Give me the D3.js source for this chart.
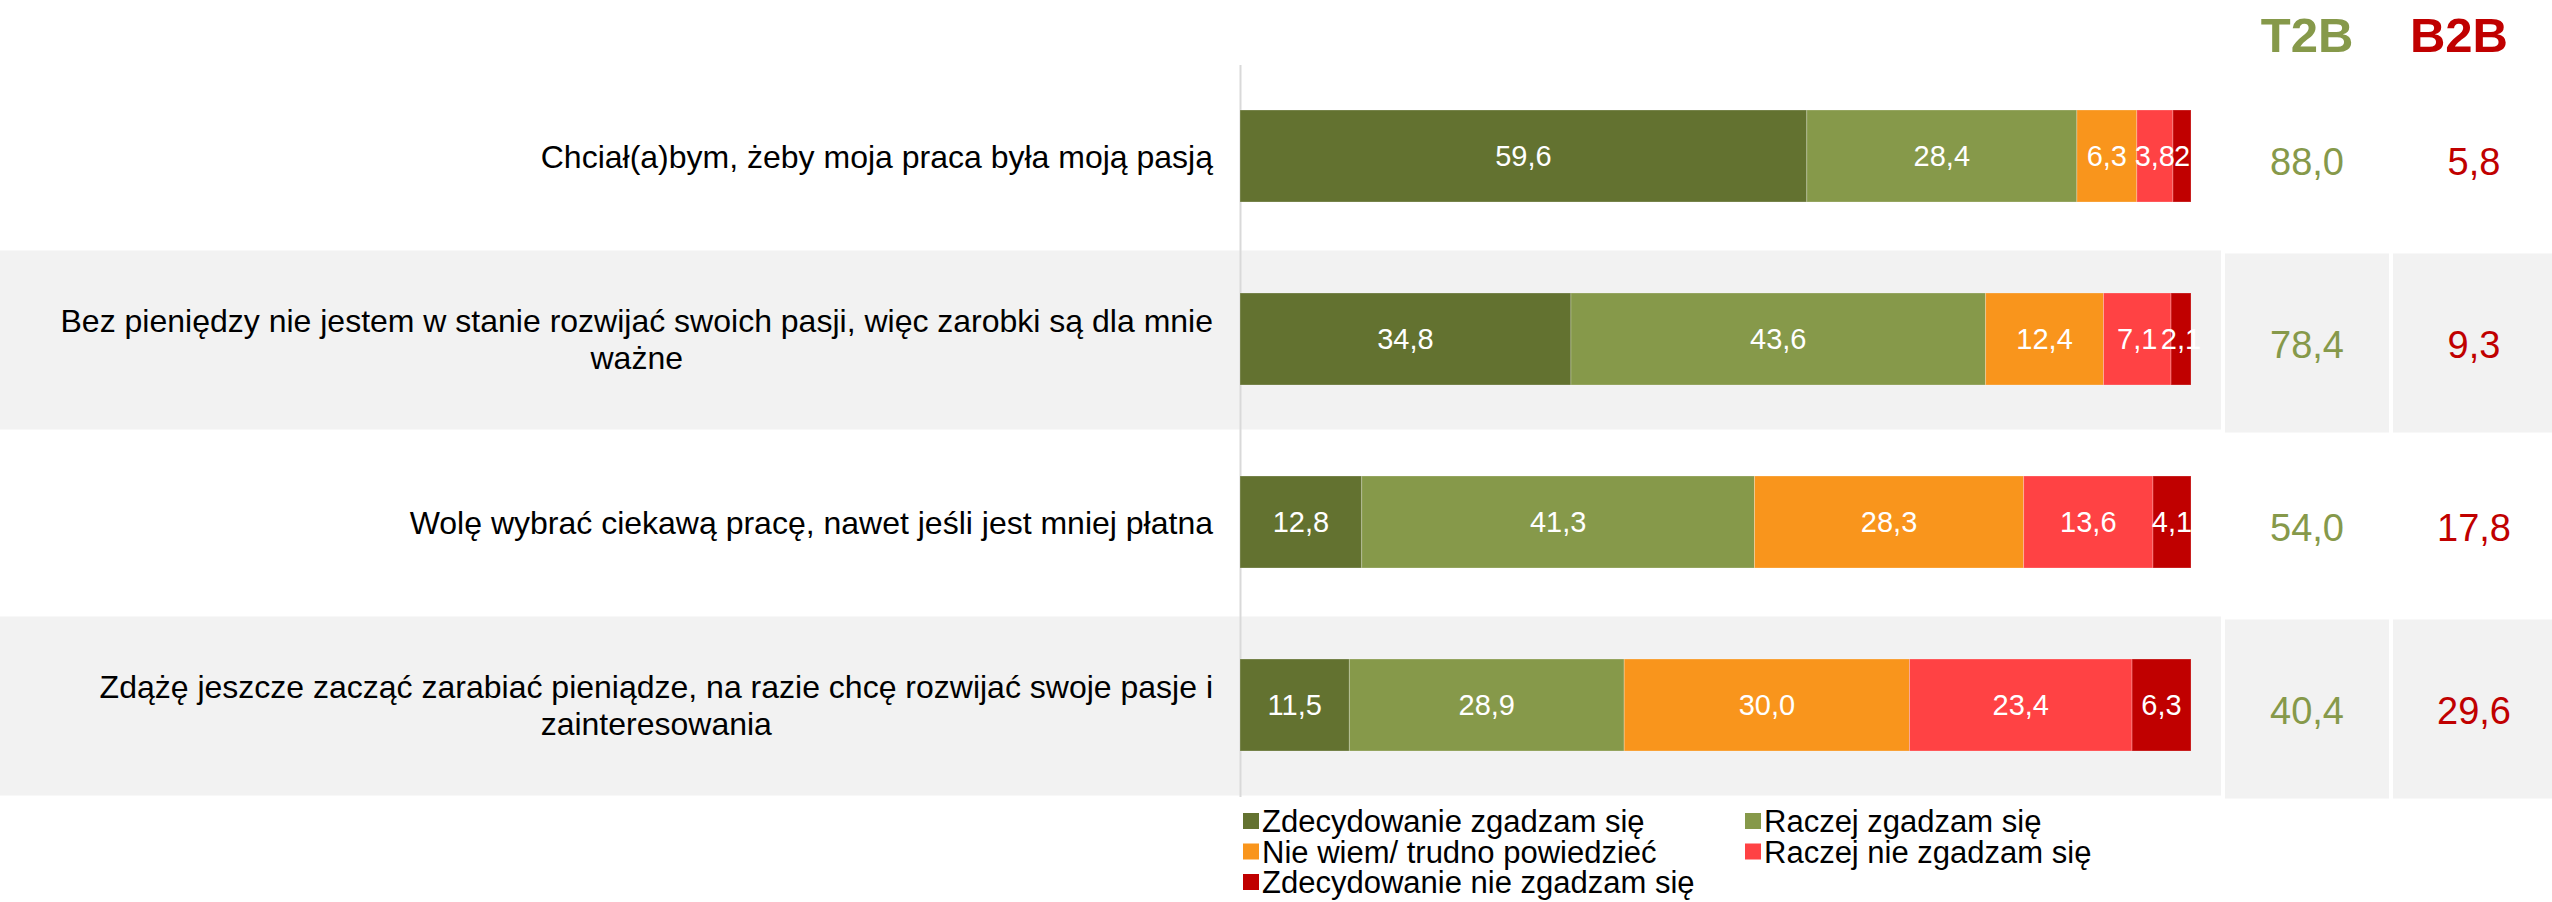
<!DOCTYPE html>
<html>
<head>
<meta charset="utf-8">
<script src="https://cdn.jsdelivr.net/npm/d3@7"></script>
<style>
  html, body { margin: 0; padding: 0; background: #fff; }
  svg text { font-family: "Liberation Sans", Arial, sans-serif; }
</style>
</head>
<body>
<svg id="chart"></svg>
<script>
// Data
const categories = [
  "Chciał(a)bym, żeby moja praca była moją pasją",
  "Bez pieniędzy nie jestem w stanie rozwijać swoich pasji, więc zarobki są dla mnie\nważne",
  "Wolę wybrać ciekawą pracę, nawet jeśli jest mniej płatna",
  "Zdążę jeszcze zacząć zarabiać pieniądze, na razie chcę rozwijać swoje pasje i\nzainteresowania",
];
const seriesNames = [
  "Zdecydowanie zgadzam się",
  "Raczej zgadzam się",
  "Nie wiem/ trudno powiedzieć",
  "Raczej nie zgadzam się",
  "Zdecydowanie nie zgadzam się",
];
const strongAgree = [59.6, 34.8, 12.8, 11.5];
const ratherAgree = [28.4, 43.6, 41.3, 28.9];
const dontKnow = [6.3, 12.4, 28.3, 30.0];
const ratherDisagree = [3.8, 7.1, 13.6, 23.4];
const strongDisagree = [2, 2.1, 4.1, 6.3];
const t2b = [88.0, 78.4, 54.0, 40.4];
const b2b = [5.8, 9.3, 17.8, 29.6];

const seriesValues = [strongAgree, ratherAgree, dontKnow, ratherDisagree, strongDisagree];
const colors = ["#637230", "#86994a", "#f9951c", "#ff4244", "#c00000"];

// Layout
const W = 2552, H = 902;
const plot = { left: 1240, right: 2191, top: 64.5, bottom: 796.5 };
const labelRight = 1213;
const t2bCell = { x: 2225, w: 164 };
const b2bCell = { x: 2393, w: 159 };

const pl = d3.formatLocale({ decimal: ",", thousands: " ", grouping: [3], currency: ["", ""] });
const fmt = pl.format(".1f");
// the source shows the tiny 2% segment label without decimals
const segFmt = v => (v === 2 ? "2" : fmt(v));

const svg = d3.select("#chart").attr("width", W).attr("height", H);

const x = d3.scaleLinear().domain([0, 100]).range([plot.left, plot.right]);
const y = d3.scaleBand().domain(d3.range(categories.length)).range([plot.top, plot.bottom]);
const barH = 92;

// Clip for bars at the plot edge (rows add up to 100,1)
svg.append("clipPath").attr("id", "plotClip")
  .append("rect")
  .attr("x", plot.left).attr("y", 0)
  .attr("width", plot.right - plot.left).attr("height", H);

// Background bands (every second row grey)
categories.forEach((c, i) => {
  if (i % 2 === 0) return;
  const top = y(i) + 3;
  svg.append("rect").attr("x", 0).attr("y", top)
    .attr("width", 2221).attr("height", y.bandwidth() - 4).attr("fill", "#f2f2f2");
  [t2bCell, b2bCell].forEach(cell => {
    svg.append("rect").attr("x", cell.x).attr("y", top + 3)
      .attr("width", cell.w).attr("height", y.bandwidth() - 4).attr("fill", "#f2f2f2");
  });
});

// Vertical axis line
svg.append("g")
  .attr("transform", `translate(${plot.left},0)`)
  .call(d3.axisLeft(y).tickSize(0).tickFormat(""))
  .call(g => g.select(".domain").attr("stroke", "#d9d9d9").attr("stroke-width", 2));

// Stack the series
const rows = categories.map((c, i) => {
  let acc = 0;
  return seriesValues.map((vals, s) => {
    const d = { row: i, s: s, x0: acc, x1: acc + vals[i], v: vals[i] };
    acc += vals[i];
    return d;
  });
}).flat();

const barsG = svg.append("g").attr("clip-path", "url(#plotClip)");

barsG.selectAll("rect.seg")
  .data(rows)
  .join("rect")
  .attr("class", "seg")
  .attr("x", d => x(d.x0))
  .attr("y", d => y(d.row) + y.bandwidth() / 2 - barH / 2)
  .attr("width", d => x(Math.min(d.x1, 100)) - x(d.x0))
  .attr("height", barH)
  .attr("fill", d => colors[d.s])
  .attr("stroke", "rgba(255,255,255,0.25)")
  .attr("stroke-width", 1);

svg.append("g").selectAll("text.seg-label")
  .data(rows)
  .join("text")
  .attr("class", "seg-label")
  .attr("x", d => (x(d.x0) + x(Math.min(d.x1, 100))) / 2)
  .attr("y", d => y(d.row) + y.bandwidth() / 2)
  .attr("dy", "0.36em")
  .attr("text-anchor", "middle")
  .attr("fill", "#fff")
  .attr("font-size", 29)
  .text(d => segFmt(d.v));

// Category labels (multi-line centred, block right-aligned)
categories.forEach((c, i) => {
  const lines = c.split("\n");
  const g = svg.append("g");
  const lineH = 37;
  const cy = y(i) + y.bandwidth() / 2;
  const texts = lines.map((line, k) =>
    g.append("text")
      .attr("y", cy + (k - (lines.length - 1) / 2) * lineH)
      .attr("dy", "0.36em")
      .attr("font-size", 32)
      .attr("fill", "#000")
      .attr("text-anchor", "middle")
      .text(line)
  );
  const maxW = d3.max(texts, t => t.node().getComputedTextLength());
  texts.forEach(t => t.attr("x", labelRight - maxW / 2));
});

// T2B / B2B headers
svg.append("text").attr("x", t2bCell.x + t2bCell.w / 2).attr("y", 52)
  .attr("text-anchor", "middle").attr("font-size", 49).attr("font-weight", "bold")
  .attr("fill", "#86994a").text("T2B");
svg.append("text").attr("x", 2459).attr("y", 52)
  .attr("text-anchor", "middle").attr("font-size", 49).attr("font-weight", "bold")
  .attr("fill", "#c00000").text("B2B");

// T2B / B2B values
svg.selectAll("text.t2b").data(t2b).join("text")
  .attr("class", "t2b")
  .attr("x", t2bCell.x + t2bCell.w / 2)
  .attr("y", (d, i) => y(i) + y.bandwidth() / 2 + 5)
  .attr("dy", "0.36em").attr("text-anchor", "middle")
  .attr("font-size", 38).attr("fill", "#86994a")
  .text(d => fmt(d));
svg.selectAll("text.b2b").data(b2b).join("text")
  .attr("class", "b2b")
  .attr("x", 2474)
  .attr("y", (d, i) => y(i) + y.bandwidth() / 2 + 5)
  .attr("dy", "0.36em").attr("text-anchor", "middle")
  .attr("font-size", 38).attr("fill", "#c00000")
  .text(d => fmt(d));

// Legend
const legend = svg.append("g");
seriesNames.forEach((name, i) => {
  const col = i % 2, row = Math.floor(i / 2);
  const lx = col === 0 ? 1243 : 1745;
  const ly = 821 + row * 30.5;
  legend.append("rect").attr("x", lx).attr("y", ly - 8)
    .attr("width", 16).attr("height", 16).attr("fill", colors[i]);
  legend.append("text").attr("x", lx + 19).attr("y", ly)
    .attr("dy", "0.36em").attr("font-size", 31).attr("fill", "#000")
    .text(name);
});
</script>
</body>
</html>
